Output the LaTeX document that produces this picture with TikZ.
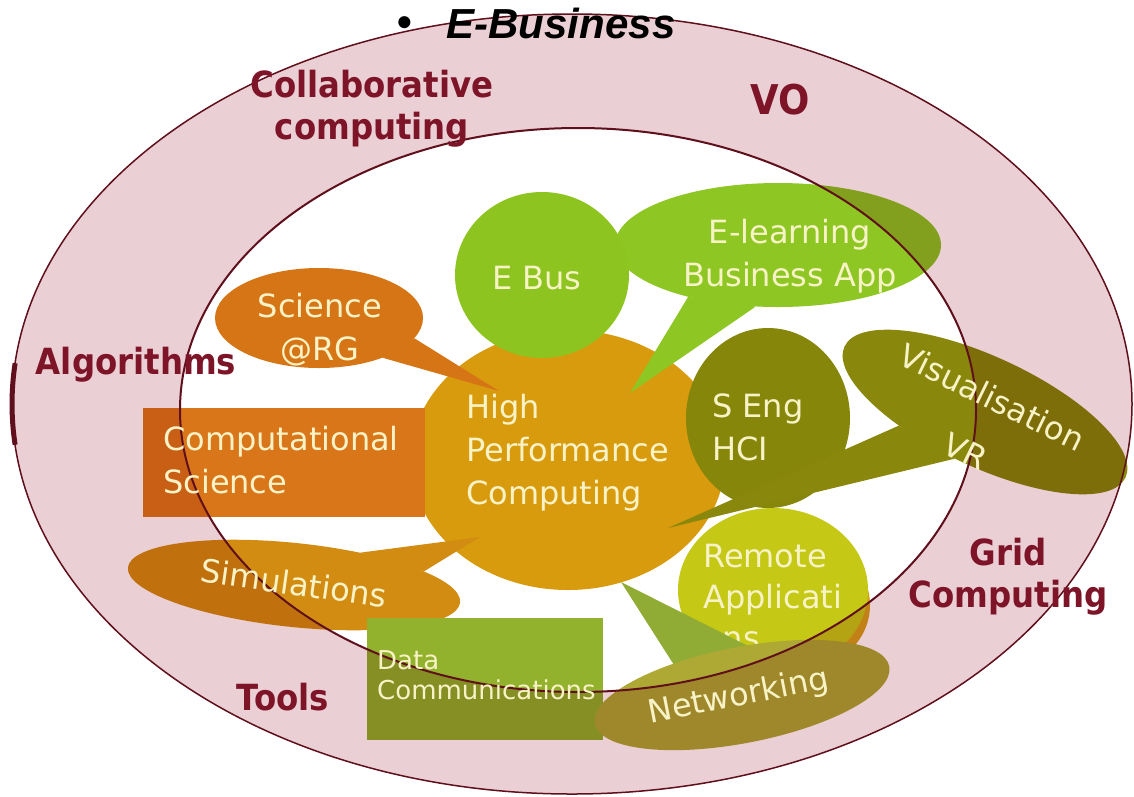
\documentclass[tikz,border=0pt]{standalone}
\usepackage{fontspec}
\setmainfont{DejaVu Sans}
\newfontfamily\tagfont{DejaVu Sans Condensed}
\newfontfamily\headfont{Liberation Sans}
\usetikzlibrary{shapes.geometric}

\pgfdeclarelayer{tint}
\pgfdeclarelayer{front}
\pgfsetlayers{main,tint,front}

\definecolor{ringpink}{RGB}{234,207,212}
\definecolor{ringline}{RGB}{95,16,28}
\definecolor{tagred}{RGB}{125,20,40}
\definecolor{cream}{RGB}{248,243,198}
\definecolor{hpcgold}{RGB}{217,155,14}
\definecolor{compsci}{RGB}{218,118,26}
\definecolor{sciorange}{RGB}{214,117,22}
\definecolor{elgreen}{RGB}{142,198,35}
\definecolor{ebgreen}{RGB}{141,196,31}
\definecolor{sengolive}{RGB}{134,134,10}
\definecolor{visolive}{RGB}{138,136,12}
\definecolor{remyellow}{RGB}{197,201,22}
\definecolor{remshade}{RGB}{212,160,28}
\definecolor{simgold}{RGB}{210,140,18}
\definecolor{dcgreen}{RGB}{146,177,44}
\definecolor{netolive}{RGB}{174,168,52}
\definecolor{nettail}{RGB}{144,172,52}

\tikzset{
  blob/.style={ellipse, inner sep=0pt, draw=none},
  panel/.style={rectangle, inner sep=0pt, anchor=north west, draw=none},
  txt/.style={text=cream, inner sep=0pt, font=\fontsize{32}{43}\selectfont},
  tag/.style={text=tagred, inner sep=0pt, align=center,
              font=\tagfont\bfseries\fontsize{36}{42}\selectfont},
  rim/.style={draw=ringline, line width=1.8pt}
}

\begin{document}
\begin{tikzpicture}[x=1pt, y=-1pt]
    \useasboundingbox (0,0) rectangle (1134,796);
    \fill[white] (0,0) rectangle (1134,796);

    \coordinate (scitip) at (499,391);
    \coordinate (eltip) at (630,393);
    \coordinate (vistip) at (668,528);
    \coordinate (simtip) at (480,537);
    \coordinate (nettip) at (621,582);
    \coordinate (netbaseA) at (690,690);
    \coordinate (netbaseB) at (760,652);

    \node[blob, fill=hpcgold, minimum width=314pt, minimum height=260pt] (hpc) at (568,460) {};
    \node[panel, fill=compsci, minimum width=282pt, minimum height=109pt] (comp) at (143,408) {};
    \node[blob, fill=sciorange, minimum width=208pt, minimum height=100pt] (sci) at (319,318) {};
    \fill[sciorange] (sci.-12) -- (scitip) -- (sci.-32) -- cycle;
    \node[blob, fill=elgreen, minimum width=326pt, minimum height=124pt] (el) at (778,245) {};
    \fill[elgreen] (el.210) -- (eltip) -- (el.250) -- cycle;
    \node[blob, fill=ebgreen, minimum width=174pt, minimum height=166pt] (ebus) at (542,275) {};
    \node[blob, fill=sengolive, minimum width=164pt, minimum height=180pt] (seng) at (768,418) {};
    \node[blob, fill=visolive, rotate=-25, minimum width=310pt, minimum height=110pt] (vis) at (985,412) {};
    \fill[visolive] (vis.214) -- (vistip) -- (vis.262) -- cycle;
    \node[blob, fill=remshade, minimum width=140pt, minimum height=130pt] (remsh) at (800,605) {};
    \node[blob, fill=remyellow, minimum width=190pt, minimum height=164pt] (rem) at (773,590) {};
    \node[txt, align=left, anchor=west, font=\fontsize{32}{41}\selectfont] (remtxt) at (703,597) {Remote\\Applicati\\ons};
    \node[blob, fill=simgold, rotate=-6, minimum width=334pt, minimum height=84pt] (sim) at (294,585) {};
    \fill[simgold] (sim.32) -- (simtip) -- (sim.12) -- cycle;
    \node[panel, fill=dcgreen, minimum width=236pt, minimum height=122pt] (dc) at (367,618) {};
    \fill[nettail] (nettip) -- (netbaseA) -- (netbaseB) -- cycle;
    \node[blob, fill=netolive, rotate=11, minimum width=300pt, minimum height=96pt] (net) at (742,695) {};

    \begin{pgfonlayer}{tint}
    \fill[ringpink, blend mode=multiply, even odd rule]
        (572,404) ellipse [x radius=560pt, y radius=390pt]
        (578,410) ellipse [x radius=398pt, y radius=282pt];
    \end{pgfonlayer}

    \begin{pgfonlayer}{front}
    \draw[rim, line width=1.5pt] (572,404) ellipse [x radius=560pt, y radius=390pt];
    \draw[rim, line width=5pt] (15.1,363.2) arc [start angle=174, end angle=186, x radius=560pt, y radius=390pt];
    \draw[rim, line width=2pt] (578,410) ellipse [x radius=398pt, y radius=282pt];

    \node[txt] (ebustxt) at (537,278) {E Bus};
    \node[txt, align=center] (eltxt) at (790,256) {E-learning\\Business App};
    \node[txt, align=center] (scitxt) at (320,330) {Science\\@RG};
    \node[txt, align=left, anchor=west] (comptxt) at (163,460) {Computational\\Science};
    \node[txt, align=left, anchor=west] (hpctxt) at (466,453) {High\\Performance\\Computing};
    \node[txt, align=left, anchor=west] (sengtxt) at (712,427) {S Eng\\HCI};
    \node[txt, align=center, rotate=-26] (vistxt) at (979,424) {Visualisation\\[17pt]VR};
    \node[txt, rotate=-8] (simtxt) at (294,583) {Simulations};
    \node[txt, align=left, anchor=west, font=\fontsize{26}{30}\selectfont] (dctxt) at (377,675) {Data\\Communications};
    \node[txt, rotate=11] (nettxt) at (739,697) {Networking};

    \node[tag] (collab) at (372,109) {Collaborative\\computing};
    \node[tag, font=\tagfont\bfseries\fontsize{41}{48}\selectfont] (vo) at (780,100) {VO};
    \node[tag] (algo) at (136,365) {Algorithms};
    \node[tag] (grid) at (1008,577) {Grid\\Computing};
    \node[tag] (tools) at (283,697) {Tools};

    \node[inner sep=0pt, font=\headfont\bfseries\fontsize{42}{50}\selectfont] (bullet) at (405,27) {•};
    \node[inner sep=0pt, font=\headfont\bfseries\itshape\fontsize{42}{50}\selectfont] (title) at (561,23) {E-Business};
    \end{pgfonlayer}
\end{tikzpicture}
\end{document}
